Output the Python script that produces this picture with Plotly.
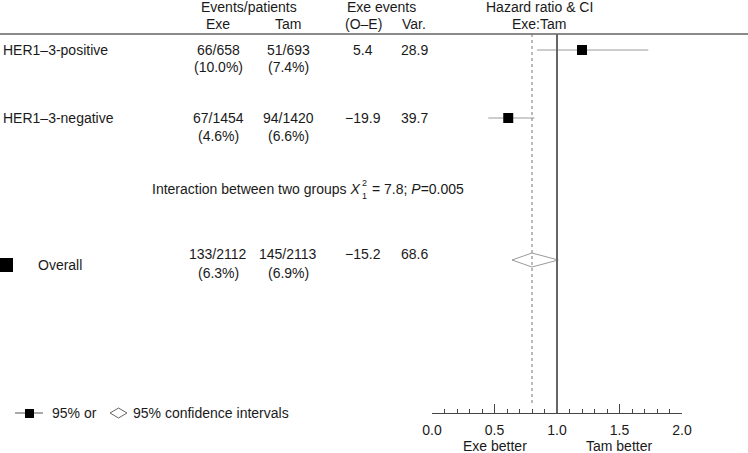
import plotly.graph_objects as go

W, H = 748, 453

# --- data -------------------------------------------------------------
subgroups = ["HER1–3-positive", "HER1–3-negative"]
exe_events = ["66/658", "67/1454"]
exe_pct = ["(10.0%)", "(4.6%)"]
tam_events = ["51/693", "94/1420"]
tam_pct = ["(7.4%)", "(6.6%)"]
o_minus_e = ["5.4", "−19.9"]
variance = ["28.9", "39.7"]
hr = [1.20, 0.61]
hr_low = [0.84, 0.45]
hr_high = [1.73, 0.82]

overall_label = "Overall"
overall_exe = "133/2112"
overall_exe_pct = "(6.3%)"
overall_tam = "145/2113"
overall_tam_pct = "(6.9%)"
overall_o_e = "−15.2"
overall_var = "68.6"
overall_hr = 0.80
overall_low = 0.64
overall_high = 1.01

axis_ticks = [0.0, 0.5, 1.0, 1.5, 2.0]

# --- layout constants (pixels) ----------------------------------------
row_y = [50, 118]
row_y2 = [67, 136]
ov_y, ov_y1, ov_y2 = 260, 254, 273
header_line_y = 34
axis_y = 413
FONT = "Liberation Sans, Arial, sans-serif"
TXT = "#1a1a1a"

col_exe, col_tam, col_oe, col_var = 218, 288, 363, 414

fig = go.Figure()

# confidence interval lines
for i in range(len(hr)):
    fig.add_trace(go.Scatter(
        x=[hr_low[i], hr_high[i]], y=[row_y[i], row_y[i]],
        mode="lines", line=dict(color="#9a9a9a", width=1), hoverinfo="skip"
    ))

# hazard ratio squares
fig.add_trace(go.Scatter(
    x=hr, y=row_y, mode="markers",
    marker=dict(symbol="square", size=10, color="black"), hoverinfo="skip"
))

# overall diamond
fig.add_trace(go.Scatter(
    x=[overall_low, overall_hr, overall_high, overall_hr, overall_low],
    y=[ov_y, ov_y - 7, ov_y, ov_y + 7, ov_y],
    mode="lines", line=dict(color="#9a9a9a", width=1), hoverinfo="skip"
))

shapes = [
    dict(type="line", xref="paper", yref="y", x0=0, x1=1, y0=header_line_y, y1=header_line_y,
         line=dict(color="#8a8a8a", width=2)),
    dict(type="line", xref="x", yref="y", x0=1, x1=1, y0=header_line_y, y1=axis_y,
         line=dict(color="#666", width=2)),
    dict(type="line", xref="x", yref="y", x0=overall_hr, x1=overall_hr, y0=header_line_y, y1=405,
         line=dict(color="#777", width=1, dash="dot")),
    # overall marker at left edge
    dict(type="rect", xref="paper", yref="y", x0=0, x1=13 / W, y0=258, y1=272,
         fillcolor="black", line=dict(width=0)),
    # legend: line + square
    dict(type="line", xref="paper", yref="y", x0=15 / W, x1=43 / W, y0=413, y1=413,
         line=dict(color="#555", width=1)),
    dict(type="rect", xref="paper", yref="y", x0=25 / W, x1=34 / W, y0=409, y1=418,
         fillcolor="black", line=dict(width=0)),
    # legend: open diamond
    dict(type="path", xref="paper", yref="y",
         path=f"M {110 / W},413 L {118.5 / W},408 L {127 / W},413 L {118.5 / W},418 Z",
         line=dict(color="#666", width=1)),
]

ann = []


def txt(x, y, s, anchor="center", size=14):
    ann.append(dict(x=x / W, y=y, xref="paper", yref="y", text=s, showarrow=False,
                    xanchor=anchor, yanchor="middle", font=dict(family=FONT, size=size, color=TXT)))


# headers
txt(249, 7, "Events/patients")
txt(col_exe, 24, "Exe")
txt(col_tam, 24, "Tam")
txt(381, 7, "Exe events")
txt(col_oe, 24, "(O–E)")
txt(col_var, 24, "Var.")
txt(539, 7, "Hazard ratio &amp; CI")
txt(539, 24, "Exe:Tam")

# rows
for i, name in enumerate(subgroups):
    txt(1, row_y[i], name, anchor="left")
    txt(col_exe, row_y[i], exe_events[i])
    txt(col_exe, row_y2[i], exe_pct[i])
    txt(col_tam, row_y[i], tam_events[i])
    txt(col_tam, row_y2[i], tam_pct[i])
    txt(col_oe, row_y[i], o_minus_e[i])
    txt(col_var, row_y[i], variance[i])

# interaction test
txt(362, 189, "Interaction between two groups <i>X</i>", anchor="right")
txt(360, 183, "2", anchor="left", size=9)
txt(360, 196, "1", anchor="left", size=9)
txt(370, 189, "= 7.8; <i>P</i>=0.005", anchor="left")

# overall row
txt(36, 265, overall_label, anchor="left")
txt(col_exe, ov_y1, overall_exe)
txt(col_exe, ov_y2, overall_exe_pct)
txt(col_tam, ov_y1, overall_tam)
txt(col_tam, ov_y2, overall_tam_pct)
txt(col_oe, ov_y1, overall_o_e)
txt(col_var, ov_y1, overall_var)

# legend text
txt(50, 413, "95% or", anchor="left")
txt(131, 413, "95% confidence intervals", anchor="left")

# axis captions
txt(495, 446, "Exe better")
txt(619, 446, "Tam better")

fig.update_layout(
    width=W, height=H,
    margin=dict(l=0, r=0, t=0, b=0, autoexpand=False),
    plot_bgcolor="white", paper_bgcolor="white",
    showlegend=False,
    shapes=shapes,
    annotations=ann,
    xaxis=dict(
        domain=[432 / W, 682 / W], range=[0, 2],
        anchor="free", position=1 - axis_y / H,
        showline=True, linecolor="#444", linewidth=1,
        ticks="inside", ticklen=9, tickwidth=1, tickcolor="#444",
        tickvals=axis_ticks, ticktext=[f"{t:.1f}" for t in axis_ticks],
        tickfont=dict(family=FONT, size=14, color=TXT),
        ticklabelstandoff=4,
        minor=dict(dtick=0.1, ticks="inside", ticklen=4, tickcolor="#444", tickwidth=1, showgrid=False),
        showgrid=False, zeroline=False, fixedrange=True, automargin=False,
    ),
    yaxis=dict(domain=[0, 1], range=[H, 0], visible=False, fixedrange=True),
)

fig.write_html("out.html", config={"displayModeBar": False},
               post_script="document.body.style.margin='0';")
